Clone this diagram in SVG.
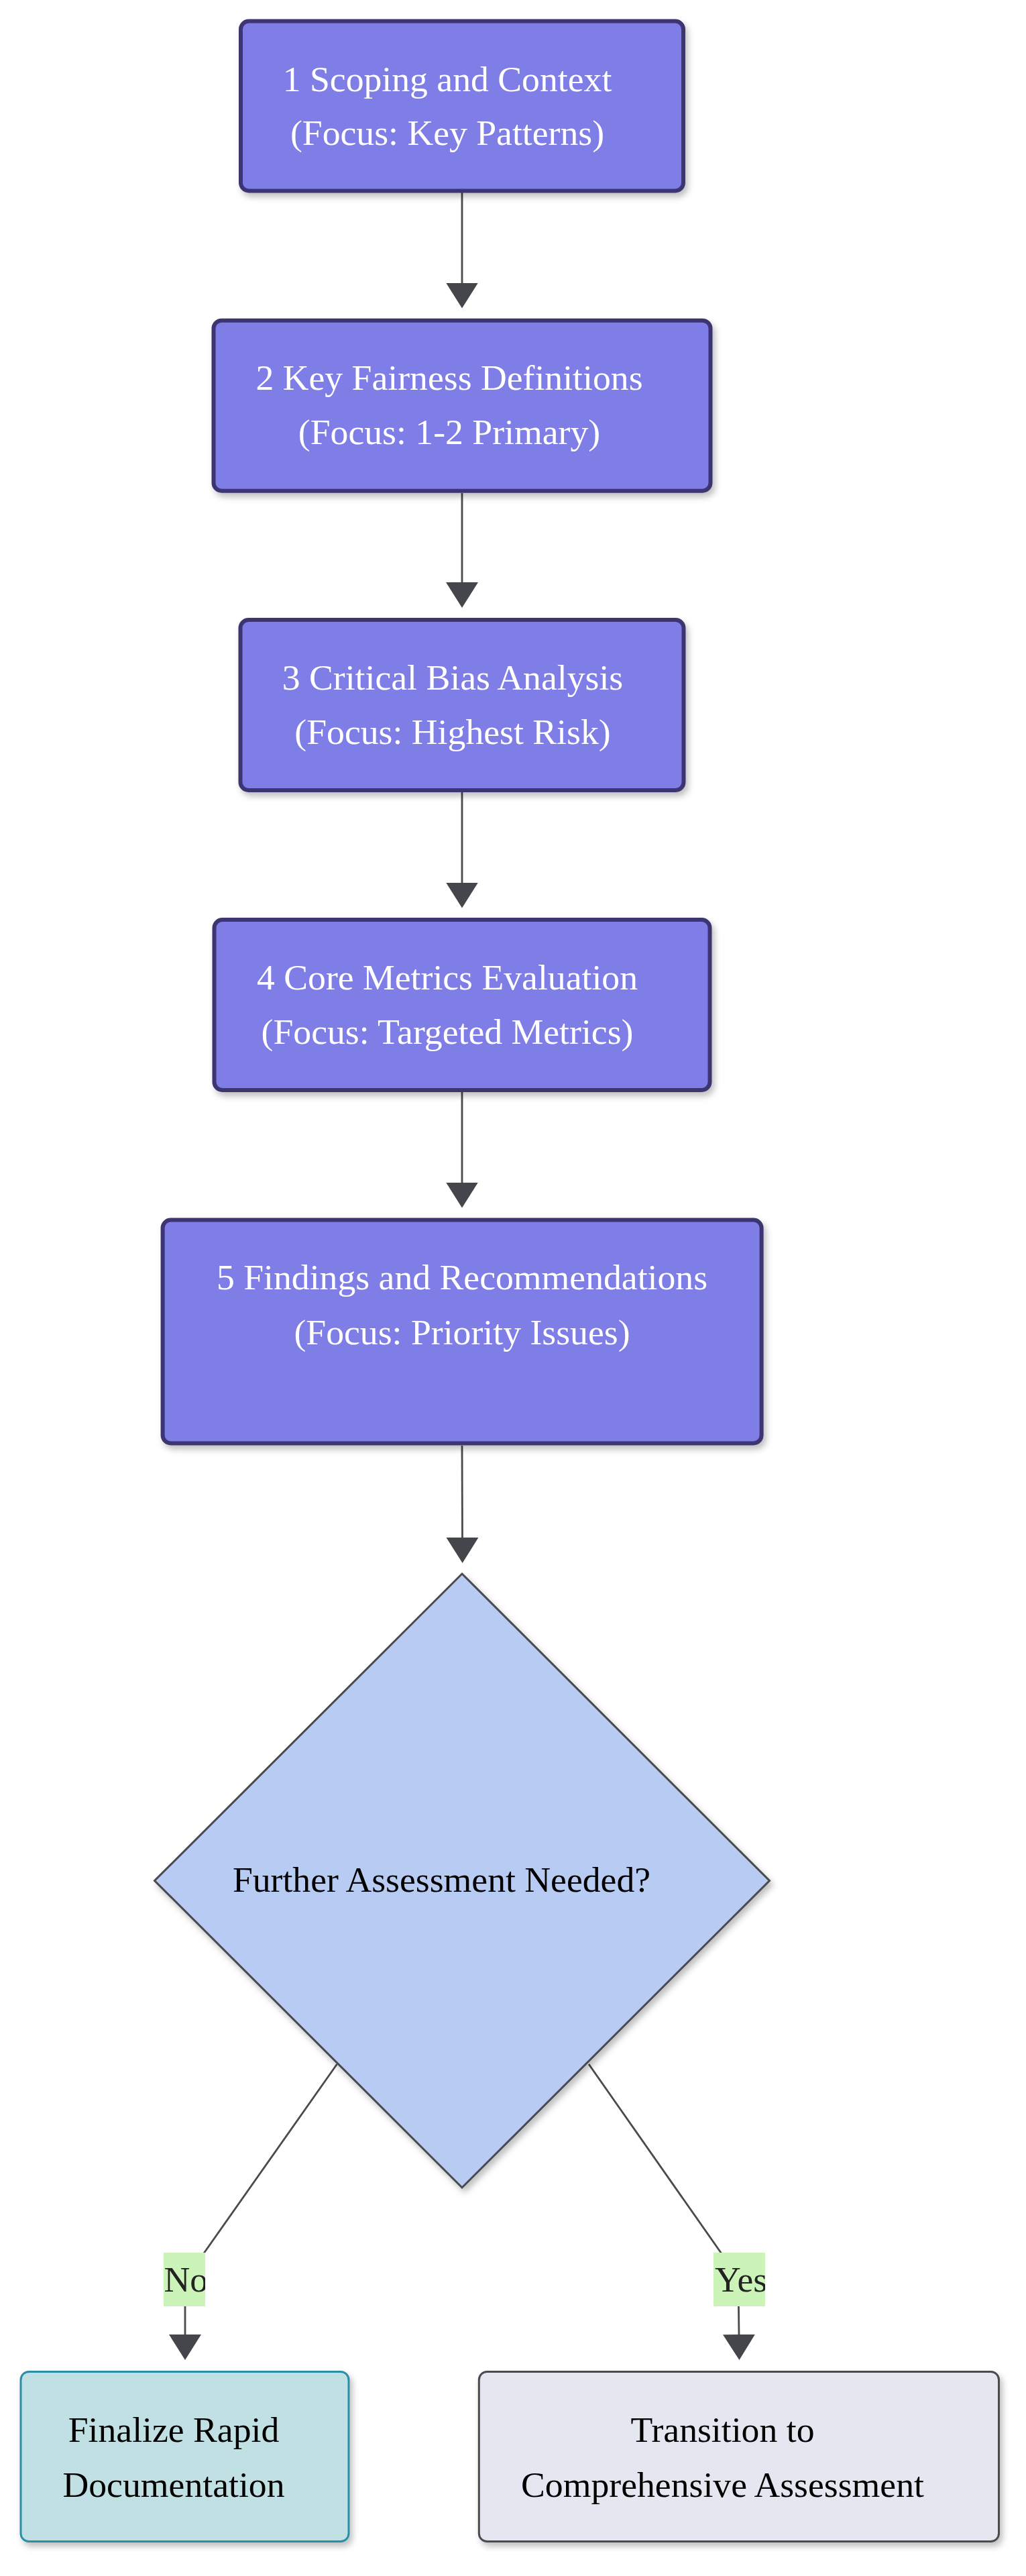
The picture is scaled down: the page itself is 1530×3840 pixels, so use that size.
<svg xmlns="http://www.w3.org/2000/svg" width="1530" height="3840" viewBox="0 0 1530 3840">
  <style>
    .txt { font-family: "Liberation Serif", "Times New Roman", serif; font-size: 53.7px; }
    .w { fill: #ffffff; text-anchor: middle; }
    .k { fill: #000000; text-anchor: middle; }
    .lbl { fill: #222222; }
    .proc { fill: #7f7de6; stroke: #3d3571; stroke-width: 6; }
    .dec { fill: #b8cbf3; stroke: #4a4a4f; stroke-width: 3; }
    .fin { fill: #c0e0e3; stroke: #2a8ea8; stroke-width: 3; }
    .trans { fill: #e4e7f0; stroke: #4b4b50; stroke-width: 3; }
    .edge { fill: none; stroke: #4a4a4f; stroke-width: 2.8; }
    .lblbg { fill: #ccf4b9; }
  </style>
  <defs>
    <filter id="sh" x="-10%" y="-10%" width="125%" height="130%">
      <feDropShadow dx="4" dy="6" stdDeviation="5" flood-color="#000000" flood-opacity="0.25"/>
    </filter>
    <marker id="arr" viewBox="0 0 38 48" refX="1" refY="24" markerWidth="38" markerHeight="48" markerUnits="userSpaceOnUse" orient="auto">
      <path d="M0,0 L38,24 L0,48 z" fill="#45464b"/>
    </marker>
    <clipPath id="clipNo"><rect x="244" y="3358" width="62" height="80"/></clipPath>
    <clipPath id="clipYes"><rect x="1064" y="3358" width="77" height="80"/></clipPath>
  </defs>
  <rect x="0" y="0" width="1530" height="3840" fill="#ffffff"/>

  <g id="connectors">
    <path class="edge" d="M689,287 L689,422.5" marker-end="url(#arr)"/>
    <path class="edge" d="M689,735 L689,869" marker-end="url(#arr)"/>
    <path class="edge" d="M689,1181 L689,1316.5" marker-end="url(#arr)"/>
    <path class="edge" d="M689,1628 L689,1763.5" marker-end="url(#arr)"/>
    <path class="edge" d="M689,2155 L689.5,2293" marker-end="url(#arr)"/>
    <path class="edge" d="M502.5,3077 L304.6,3358 Q276,3398 276,3440 L276,3481" marker-end="url(#arr)"/>
    <path class="edge" d="M878,3077 L1075,3358 Q1101.5,3398 1101.5,3440 L1102,3481" marker-end="url(#arr)"/>
  </g>

  <g id="node1">
    <rect class="proc" x="359" y="31.5" width="660" height="253" rx="12" filter="url(#sh)"/>
    <text class="txt w" x="667" y="135.5">1 Scoping and Context</text>
    <text class="txt w" x="667" y="216">(Focus: Key Patterns)</text>
  </g>
  <g id="node2">
    <rect class="proc" x="318.5" y="477.7" width="741" height="254" rx="12" filter="url(#sh)"/>
    <text class="txt w" x="670" y="580.5">2 Key Fairness Definitions</text>
    <text class="txt w" x="670" y="662">(Focus: 1-2 Primary)</text>
  </g>
  <g id="node3">
    <rect class="proc" x="358.5" y="924" width="661" height="254" rx="12" filter="url(#sh)"/>
    <text class="txt w" x="675" y="1027.5">3 Critical Bias Analysis</text>
    <text class="txt w" x="675" y="1108.5">(Focus: Highest Risk)</text>
  </g>
  <g id="node4">
    <rect class="proc" x="319.5" y="1371" width="739" height="254" rx="12" filter="url(#sh)"/>
    <text class="txt w" x="667" y="1474.5">4 Core Metrics Evaluation</text>
    <text class="txt w" x="667" y="1556">(Focus: Targeted Metrics)</text>
  </g>
  <g id="node5">
    <rect class="proc" x="242.6" y="1818.5" width="893" height="333" rx="12" filter="url(#sh)"/>
    <text class="txt w" x="689" y="1922">5 Findings and Recommendations</text>
    <text class="txt w" x="689" y="2003.5">(Focus: Priority Issues)</text>
  </g>
  <g id="decision">
    <polygon class="dec" points="689,2346 1147.5,2803.5 689,3261 230.5,2803.5" filter="url(#sh)"/>
    <text class="txt k" x="658.5" y="2820">Further Assessment Needed?</text>
  </g>
  <g id="finalize">
    <rect class="fin" x="31" y="3535.5" width="489" height="253" rx="12" filter="url(#sh)"/>
    <text class="txt k" x="259" y="3640">Finalize Rapid</text>
    <text class="txt k" x="259" y="3721.5">Documentation</text>
  </g>
  <g id="transition">
    <rect class="trans" x="714.3" y="3535.5" width="775.2" height="253" rx="12" filter="url(#sh)"/>
    <text class="txt k" x="1077.5" y="3640">Transition to</text>
    <text class="txt k" x="1077.5" y="3721.5">Comprehensive Assessment</text>
  </g>
  <g id="label-no">
    <rect class="lblbg" x="244" y="3358" width="62" height="80"/>
    <text class="txt lbl" x="244.5" y="3415.5" clip-path="url(#clipNo)">No</text>
  </g>
  <g id="label-yes">
    <rect class="lblbg" x="1064" y="3358" width="77" height="80"/>
    <text class="txt lbl" x="1066" y="3415.5" clip-path="url(#clipYes)">Yes</text>
  </g>
</svg>
